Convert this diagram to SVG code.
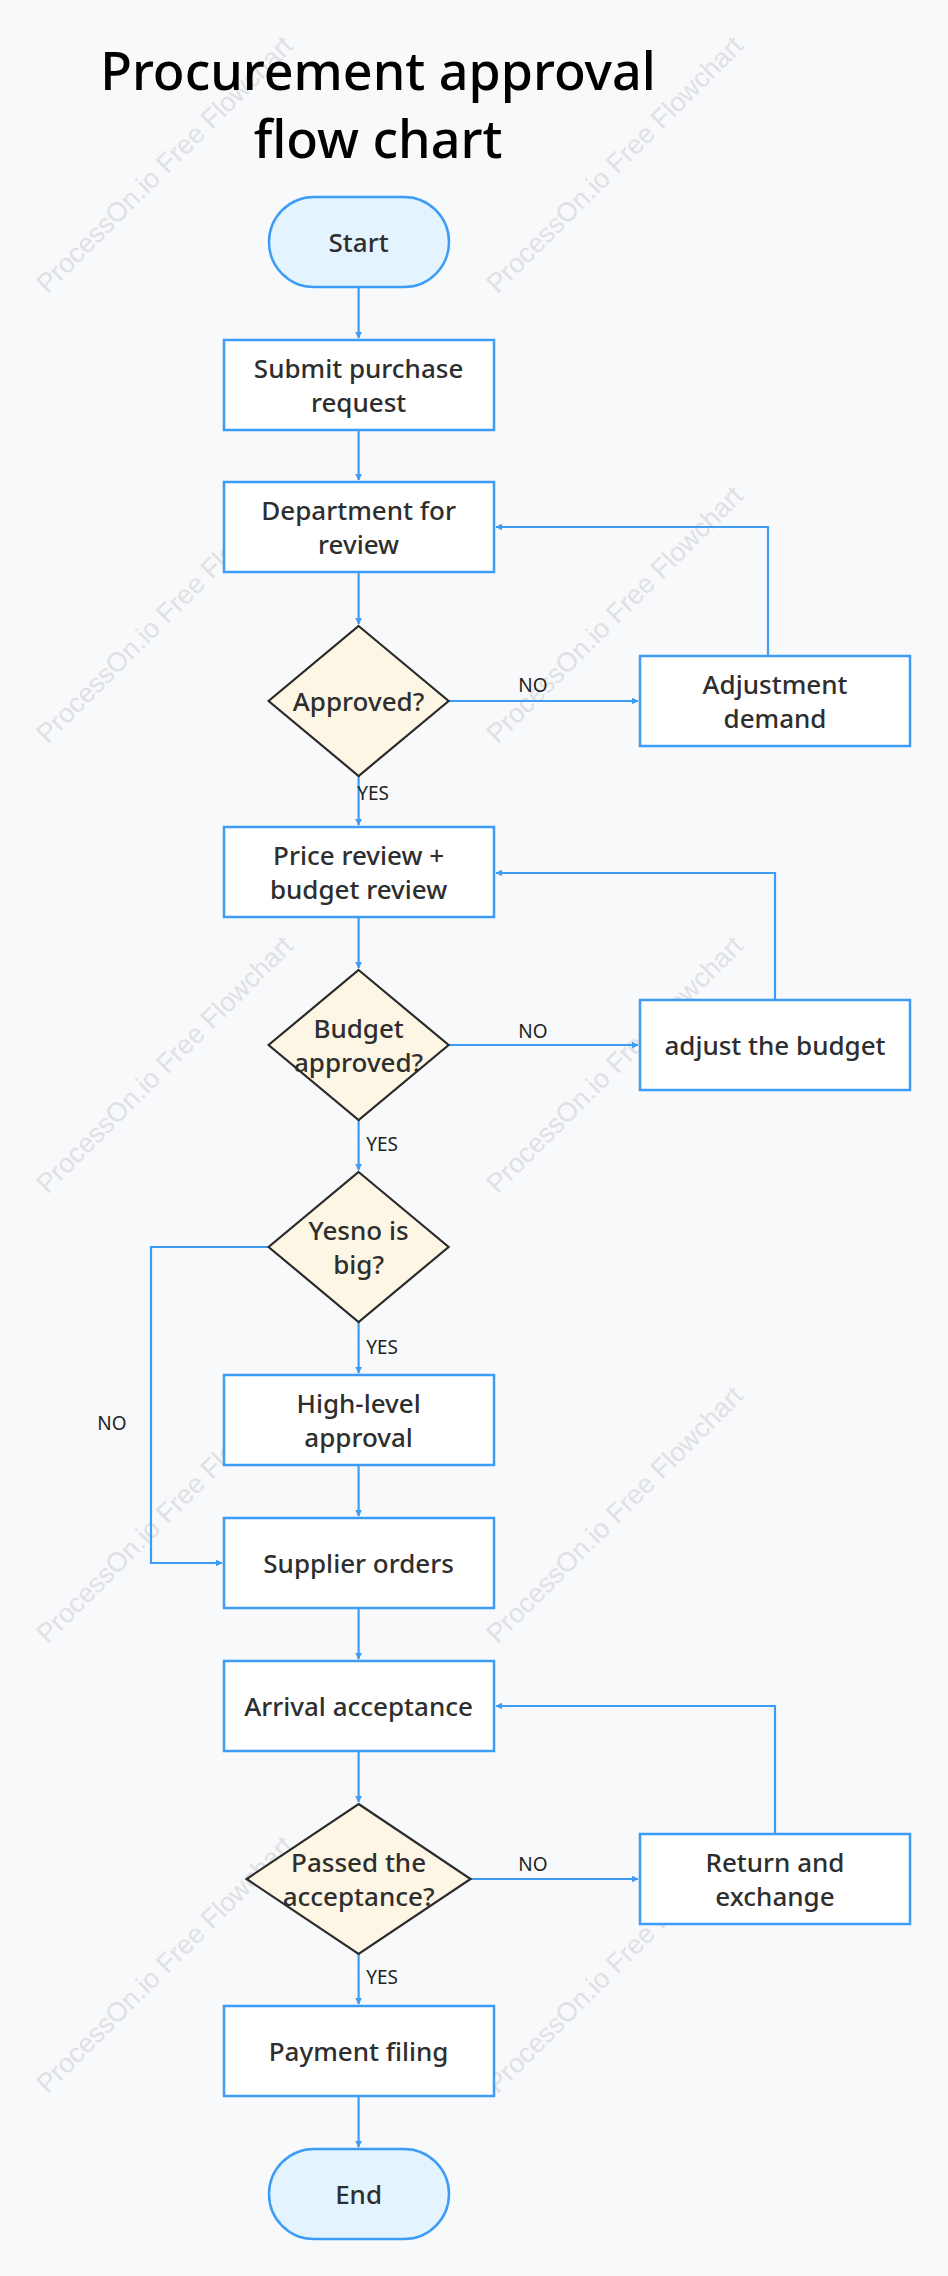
<svg xmlns="http://www.w3.org/2000/svg" width="948" height="2276" viewBox="0 0 948 2276">
<defs>
<style>
.bx{fill:#fff;stroke:#3d9cf5;stroke-width:2.5}
.tm{fill:#e4f4ff;stroke:#3d9cf5;stroke-width:2.5}
.dm{fill:#fdf6e4;stroke:#2b2b2b;stroke-width:2.2}
.t{font-family:"Noto Sans","Open Sans",sans-serif;font-size:26px;fill:#2e2e2e;text-anchor:middle;font-weight:500}
.l{font-family:"Noto Sans","Open Sans",sans-serif;font-size:19px;fill:#222;text-anchor:middle}
.c{fill:none;stroke:#3d9cf5;stroke-width:2.2;marker-end:url(#a)}
.w{font-family:"Liberation Sans",sans-serif;font-size:27px;fill:#dfe1e4;text-anchor:middle}
</style>
<marker id="a" viewBox="0 0 10 10" refX="9" refY="5" markerWidth="7" markerHeight="7" markerUnits="userSpaceOnUse" orient="auto"><path d="M0,0L10,5L0,10z" fill="#3d9cf5"/></marker>
</defs>
<rect width="948" height="2276" fill="#f7f9fb"/>
<g id="watermarks">
<text class="w" transform="translate(171,171) rotate(-45)">ProcessOn.io Free Flowchart</text>
<text class="w" transform="translate(621,171) rotate(-45)">ProcessOn.io Free Flowchart</text>
<text class="w" transform="translate(171,621) rotate(-45)">ProcessOn.io Free Flowchart</text>
<text class="w" transform="translate(621,621) rotate(-45)">ProcessOn.io Free Flowchart</text>
<text class="w" transform="translate(171,1071) rotate(-45)">ProcessOn.io Free Flowchart</text>
<text class="w" transform="translate(621,1071) rotate(-45)">ProcessOn.io Free Flowchart</text>
<text class="w" transform="translate(171,1521) rotate(-45)">ProcessOn.io Free Flowchart</text>
<text class="w" transform="translate(621,1521) rotate(-45)">ProcessOn.io Free Flowchart</text>
<text class="w" transform="translate(171,1971) rotate(-45)">ProcessOn.io Free Flowchart</text>
<text class="w" transform="translate(621,1971) rotate(-45)">ProcessOn.io Free Flowchart</text>
</g>
<g id="title"><text font-family="Noto Sans,Open Sans,sans-serif" font-size="52" font-weight="500" text-anchor="middle" fill="#000"><tspan x="378" y="90">Procurement approval</tspan><tspan x="378" y="158">flow chart</tspan></text></g>
<g id="connectors">
<path class="c" d="M358.6,287V338"/>
<path class="c" d="M358.6,430V480"/>
<path class="c" d="M358.6,572V624"/>
<path class="c" d="M448.6,701H638"/>
<path class="c" d="M768,656V527H496"/>
<path class="c" d="M358.6,776V825"/>
<path class="c" d="M358.6,917V968"/>
<path class="c" d="M448.6,1045H638"/>
<path class="c" d="M775,1000V873H496"/>
<path class="c" d="M358.6,1120V1170"/>
<path class="c" d="M358.6,1322V1373"/>
<path class="c" d="M358.6,1465V1516"/>
<path class="c" d="M268.6,1247H151V1563H222"/>
<path class="c" d="M358.6,1608V1659"/>
<path class="c" d="M358.6,1751V1802"/>
<path class="c" d="M470.6,1879H638"/>
<path class="c" d="M775,1834V1706H496"/>
<path class="c" d="M358.6,1954V2004"/>
<path class="c" d="M358.6,2096V2147"/>
<text class="l" x="533" y="692">NO</text>
<text class="l" x="373" y="800">YES</text>
<text class="l" x="533" y="1038">NO</text>
<text class="l" x="382" y="1151">YES</text>
<text class="l" x="382" y="1354">YES</text>
<text class="l" x="112" y="1430">NO</text>
<text class="l" x="533" y="1871">NO</text>
<text class="l" x="382" y="1984">YES</text>
</g>
<g id="start"><rect class="tm" x="269" y="197" width="180" height="90" rx="45"/><text class="t" x="358.6" y="252">Start</text></g>
<g id="submit"><rect class="bx" x="224" y="340" width="270" height="90"/><text class="t" x="358.6" y="378">Submit purchase</text><text class="t" x="358.6" y="412">request</text></g>
<g id="dept"><rect class="bx" x="224" y="482" width="270" height="90"/><text class="t" x="358.6" y="520">Department for</text><text class="t" x="358.6" y="554">review</text></g>
<g id="approved"><path class="dm" d="M358.6,626L448.6,701L358.6,776L268.6,701z"/><text class="t" x="358.6" y="711">Approved?</text></g>
<g id="adjdemand"><rect class="bx" x="640" y="656" width="270" height="90"/><text class="t" x="775" y="694">Adjustment</text><text class="t" x="775" y="728">demand</text></g>
<g id="price"><rect class="bx" x="224" y="827" width="270" height="90"/><text class="t" x="358.6" y="865">Price review +</text><text class="t" x="358.6" y="899">budget review</text></g>
<g id="budgetok"><path class="dm" d="M358.6,970L448.6,1045L358.6,1120L268.6,1045z"/><text class="t" x="358.6" y="1038">Budget</text><text class="t" x="358.6" y="1072">approved?</text></g>
<g id="adjbudget"><rect class="bx" x="640" y="1000" width="270" height="90"/><text class="t" x="775" y="1055">adjust the budget</text></g>
<g id="yesno"><path class="dm" d="M358.6,1172L448.6,1247L358.6,1322L268.6,1247z"/><text class="t" x="358.6" y="1240">Yesno is</text><text class="t" x="358.6" y="1274">big?</text></g>
<g id="highlevel"><rect class="bx" x="224" y="1375" width="270" height="90"/><text class="t" x="358.6" y="1413">High-level</text><text class="t" x="358.6" y="1447">approval</text></g>
<g id="supplier"><rect class="bx" x="224" y="1518" width="270" height="90"/><text class="t" x="358.6" y="1573">Supplier orders</text></g>
<g id="arrival"><rect class="bx" x="224" y="1661" width="270" height="90"/><text class="t" x="358.6" y="1716">Arrival acceptance</text></g>
<g id="passed"><path class="dm" d="M358.6,1804L470.6,1879L358.6,1954L246.6,1879z"/><text class="t" x="358.6" y="1872">Passed the</text><text class="t" x="358.6" y="1906">acceptance?</text></g>
<g id="return"><rect class="bx" x="640" y="1834" width="270" height="90"/><text class="t" x="775" y="1872">Return and</text><text class="t" x="775" y="1906">exchange</text></g>
<g id="payment"><rect class="bx" x="224" y="2006" width="270" height="90"/><text class="t" x="358.6" y="2061">Payment filing</text></g>
<g id="end"><rect class="tm" x="269" y="2149" width="180" height="90" rx="45"/><text class="t" x="358.6" y="2204">End</text></g>
</svg>
